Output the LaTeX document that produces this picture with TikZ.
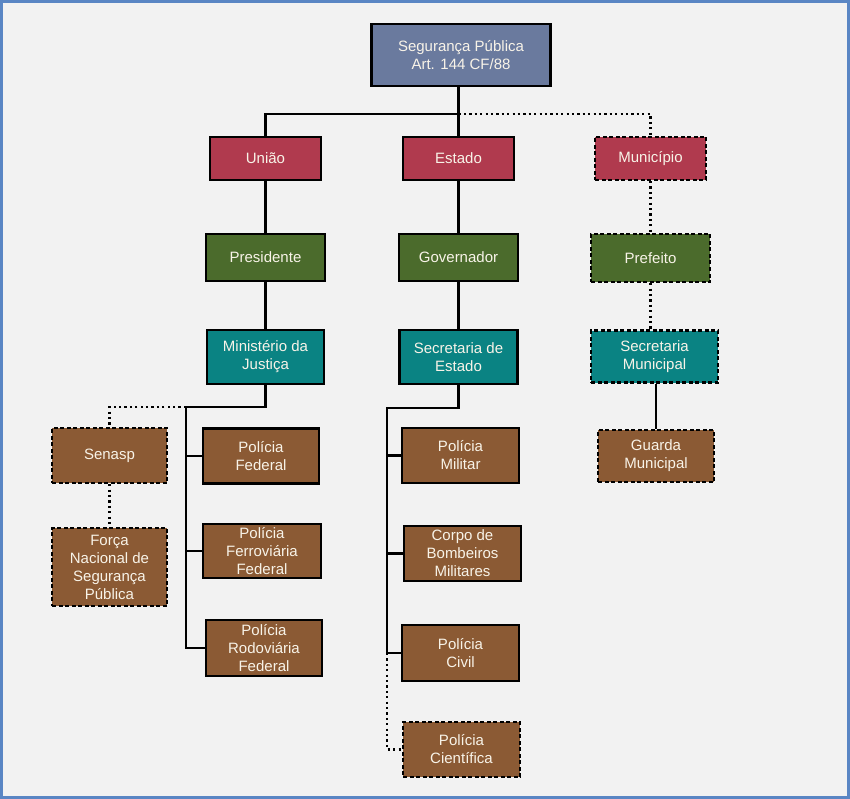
\documentclass[tikz,border=0pt]{standalone}
\usepackage{fontspec}
\setmainfont{Liberation Sans}
\definecolor{bg}{HTML}{F2F2F2}
\definecolor{frame}{HTML}{5A86C4}
\definecolor{cTop}{HTML}{6A7A9E}
\definecolor{cRed}{HTML}{B03A4E}
\definecolor{cGreen}{HTML}{4B6B2C}
\definecolor{cTeal}{HTML}{0A8383}
\definecolor{cBrown}{HTML}{8B5A34}
\definecolor{txt}{HTML}{F8F3E8}
\begin{document}
\begin{tikzpicture}[x=1pt,y=-1pt,
  box/.style={draw=black, line width=2.2pt, inner sep=0pt, align=center, text=txt,
    font=\fontsize{15}{18}\selectfont},
  dbox/.style={box, dash pattern=on 4pt off 2.5pt},
  conn/.style={draw=black, line width=2.4pt},
  dotline/.style={draw=black, line width=2.4pt, dash pattern=on 2.2pt off 3.2pt}]
\useasboundingbox (0,0) rectangle (850,799);
\fill[bg] (0,0) rectangle (850,799);
\draw[frame, line width=3pt] (1.5,1.5) rectangle (848.5,797.5);

\node[box, fill=cTop, minimum width=179pt, minimum height=62pt] (top) at (461,55) {Segurança Pública\\Art. 144 CF/88};

\node[box, fill=cRed, minimum width=111pt, minimum height=43pt] (uniao) at (265.5,158.5) {União};
\node[box, fill=cRed, minimum width=111pt, minimum height=43pt] (estado) at (458.5,158.5) {Estado};
\node[dbox, fill=cRed, minimum width=111pt, minimum height=43pt] (mun) at (650.5,158.5) {Município};

\node[box, fill=cGreen, minimum width=119pt, minimum height=47pt] (pres) at (265.5,257.5) {Presidente};
\node[box, fill=cGreen, minimum width=119pt, minimum height=47pt] (gov) at (458.5,257.5) {Governador};
\node[dbox, fill=cGreen, minimum width=119pt, minimum height=48pt] (pref) at (650.5,258) {Prefeito};

\node[box, fill=cTeal, minimum width=117pt, minimum height=54pt] (mj) at (265.5,357) {Ministério da\\Justiça};
\node[box, fill=cTeal, minimum width=118pt, minimum height=54pt] (se) at (458.5,357) {Secretaria de\\Estado};
\node[dbox, fill=cTeal, minimum width=127pt, minimum height=52pt] (sm) at (654.5,356.5) {Secretaria\\Municipal};

\node[dbox, fill=cBrown, minimum width=115pt, minimum height=55pt] (senasp) at (109.5,455.5) {Senasp};
\node[dbox, fill=cBrown, minimum width=115pt, minimum height=78pt] (fn) at (109.5,567) {Força\\Nacional de\\Segurança\\Pública};

\node[box, fill=cBrown, minimum width=116pt, minimum height=55pt] (pf) at (261,456) {Polícia\\Federal};
\node[box, fill=cBrown, minimum width=118pt, minimum height=54pt] (pff) at (262,551) {Polícia\\Ferroviária\\Federal};
\node[box, fill=cBrown, minimum width=116pt, minimum height=56pt] (prf) at (264,648) {Polícia\\Rodoviária\\Federal};

\node[box, fill=cBrown, minimum width=117pt, minimum height=55pt] (pm) at (460.5,455.5) {Polícia\\Militar};
\node[box, fill=cBrown, minimum width=117pt, minimum height=55pt] (cbm) at (462.5,553.5) {Corpo de\\Bombeiros\\Militares};
\node[box, fill=cBrown, minimum width=117pt, minimum height=56pt] (pc) at (460.5,653) {Polícia\\Civil};
\node[dbox, fill=cBrown, minimum width=117pt, minimum height=55pt] (pcie) at (461.5,749.5) {Polícia\\Científica};

\node[dbox, fill=cBrown, minimum width=116pt, minimum height=52pt] (gm) at (656,456) {Guarda\\Municipal};

% top level connectors
\coordinate (j0) at (458.5,114);
\draw[conn] (top.south -| j0) -- (estado.north);
\draw[conn] (j0) -| (uniao.north);
\draw[dotline] (j0) -| (mun.north);

\draw[conn] (uniao.south) -- (pres.north);
\draw[conn] (pres.south) -- (mj.north);
\draw[conn] (estado.south) -- (gov.north);
\draw[conn] (gov.south) -- (se.north);
\draw[dotline] (mun.south) -- (pref.north);
\draw[dotline] (pref.south) -- (pref.south |- sm.north);
\draw[conn] (sm.south -| gm.north) -- (gm.north);

% Ministerio branch
\coordinate (b1) at (186,407);
\draw[conn] (mj.south) |- (b1) -- (b1 |- prf.west) -- (prf.west);
\draw[conn] (b1 |- pf.west) -- (pf.west);
\draw[conn] (b1 |- pff.west) -- (pff.west);
\draw[dotline] (b1) -| (senasp.north);
\draw[dotline] (senasp.south) -- (fn.north);

% Secretaria de Estado branch
\coordinate (b2) at (387,408);
\draw[conn] (se.south) |- (b2) -- (b2 |- pc.west) -- (pc.west);
\draw[conn] (b2 |- pm.west) -- (pm.west);
\draw[conn] (b2 |- cbm.west) -- (cbm.west);
\draw[dotline] (b2 |- pc.west) |- (pcie.west);
\end{tikzpicture}
\end{document}
